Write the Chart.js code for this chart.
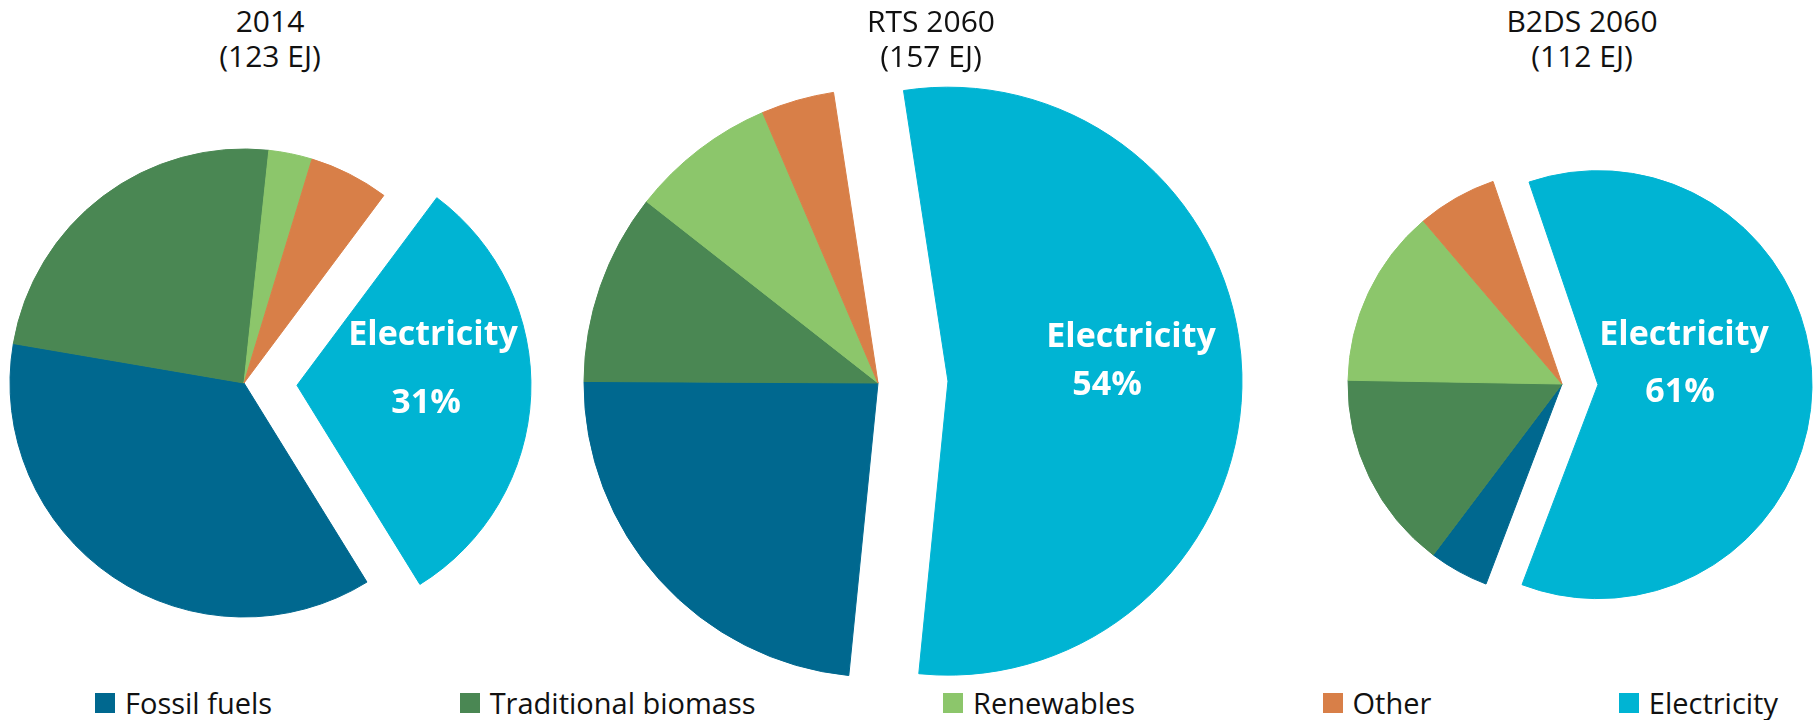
<!DOCTYPE html>
<html>
<head>
<meta charset="utf-8">
<script src="https://cdn.jsdelivr.net/npm/chart.js@4/dist/chart.umd.min.js"></script>
<style>
  body { margin: 0; background: #fff; overflow: hidden; }
  #wrap { position: relative; width: 1819px; height: 720px; overflow: hidden; font-family: "Open Sans", sans-serif; color: #111; }
  #wrap canvas { position: absolute; }
  .pie-title { position: absolute; top: 3px; width: 300px; margin-left: -150px; text-align: center; font-size: 30px; line-height: 35px; }
  #legend { position: absolute; left: 95px; right: 41px; top: 686px; height: 34px; display: flex; justify-content: space-between; font-size: 29px; line-height: 34px; white-space: nowrap; }
  #legend .item { display: flex; align-items: center; }
  #legend .swatch { width: 20px; height: 20px; margin-right: 10px; }
</style>
</head>
<body>
<div id="wrap"><div id="legend"></div></div>
<script>
// final energy by carrier, share of total (%)
const carriers = ['Fossil fuels', 'Traditional biomass', 'Renewables', 'Other', 'Electricity'];
const carrierColors = ['#00688f', '#4a8753', '#8cc66b', '#d87f48', '#00b4d3'];
const scenarios = ['2014', 'RTS 2060', 'B2DS 2060'];
const totalsEJ = [123, 157, 112];
const share2014 = [36.5, 24, 3, 5.5, 31];
const shareRTS2060 = [23.5, 10.5, 8, 4, 54];
const shareB2DS2060 = [4.5, 15, 13.5, 6, 61];
const shares = [share2014, shareRTS2060, shareB2DS2060];

// placement of each pie, how far the electricity slice is pulled out, label offsets
const pies = [
  { cx: 244, cy: 383, r: 234, pull: 53, tilt: 2.5, titleX: 270, dx: [189, 182], dy: [-38, 30] },
  { cx: 878, cy: 383, r: 294, pull: 70, tilt: -1.5, titleX: 931, dx: [253, 229], dy: [-36, 12] },
  { cx: 1562, cy: 384, r: 214, pull: 36, tilt: 1, titleX: 1582, dx: [122, 118], dy: [-39, 18] }
];

const elecIdx = carriers.indexOf('Electricity');
const wrap = document.getElementById('wrap');

// draws arcs itself so one slice can be moved out without growing its radius
const pullOutSlice = {
  id: 'pullOut',
  beforeDatasetDraw(chart, args, opts) {
    const ctx = chart.ctx;
    args.meta.data.forEach((arc, i) => {
      const d = i === opts.index ? opts.distance : 0;
      const mid = (arc.startAngle + arc.endAngle) / 2;
      ctx.save();
      ctx.translate(Math.cos(mid) * d, Math.sin(mid) * d);
      arc.draw(ctx, chart.chartArea);
      ctx.restore();
    });
    return false;
  },
  afterDatasetsDraw(chart, args, opts) {
    const arc = chart.getDatasetMeta(0).data[opts.index];
    const ctx = chart.ctx;
    ctx.save();
    ctx.fillStyle = '#fff';
    ctx.font = 'bold 34px "Open Sans"';
    ctx.textAlign = 'center';
    ctx.textBaseline = 'alphabetic';
    opts.lines.forEach((line, k) => ctx.fillText(line, arc.x + opts.dx[k], arc.y + opts.dy[k]));
    ctx.restore();
  }
};

pies.forEach((p, k) => {
  const half = p.r + p.pull + 8;
  const canvas = document.createElement('canvas');
  canvas.width = canvas.height = half * 2;
  canvas.style.left = (p.cx - half) + 'px';
  canvas.style.top = (p.cy - half) + 'px';
  wrap.appendChild(canvas);

  const title = document.createElement('div');
  title.className = 'pie-title';
  title.style.left = p.titleX + 'px';
  title.innerHTML = scenarios[k] + '<br>(' + totalsEJ[k] + ' EJ)';
  wrap.appendChild(title);

  const elec = shares[k][elecIdx];
  new Chart(canvas, {
    type: 'pie',
    data: {
      labels: carriers,
      datasets: [{
        data: shares[k],
        backgroundColor: carrierColors,
        borderColor: carrierColors,
        borderWidth: 1
      }]
    },
    options: {
      responsive: false,
      animation: false,
      radius: p.r,
      // electricity slice sits on the right-hand side
      rotation: 90 + 1.8 * elec + p.tilt,
      layout: { padding: 0 },
      plugins: {
        legend: { display: false },
        tooltip: { enabled: false },
        pullOut: { index: elecIdx, distance: p.pull, lines: ['Electricity', elec + '%'], dx: p.dx, dy: p.dy }
      }
    },
    plugins: [pullOutSlice]
  });
});

// shared legend along the bottom
const legend = document.getElementById('legend');
carriers.forEach((name, i) => {
  const item = document.createElement('div');
  item.className = 'item';
  item.innerHTML = '<span class="swatch" style="background:' + carrierColors[i] + '"></span>' + name;
  legend.appendChild(item);
});
</script>
</body>
</html>
